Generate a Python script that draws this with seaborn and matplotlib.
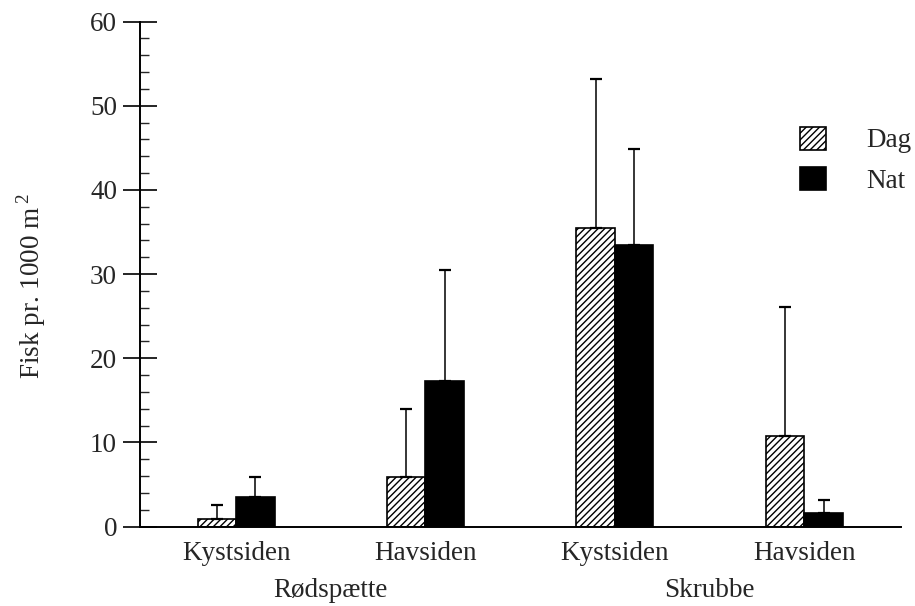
import matplotlib
matplotlib.use("Agg")
import matplotlib.pyplot as plt
from matplotlib.patches import Patch
from matplotlib.ticker import MultipleLocator
import seaborn as sns
import pandas as pd
import numpy as np

# ---- data ----
species = ["Rødspætte", "Rødspætte", "Skrubbe", "Skrubbe"]
sides = ["Kystsiden", "Havsiden", "Kystsiden", "Havsiden"]
dag = [0.85, 5.9, 35.5, 10.7]
dag_err_top = [2.5, 14.0, 53.2, 26.1]
nat = [3.5, 17.3, 33.4, 1.6]
nat_err_top = [5.9, 30.45, 44.9, 3.2]
groups = ["Dag", "Nat"]
yticks = [0, 10, 20, 30, 40, 50, 60]

keys = [f"{s} {p}" for s, p in zip(species, sides)]
df = pd.DataFrame({
    "key": keys * 2,
    "tid": ["Dag"] * 4 + ["Nat"] * 4,
    "val": dag + nat,
})

sns.set_style("white")
plt.rcParams["font.family"] = ["Liberation Serif", "DejaVu Serif"]
plt.rcParams["mathtext.fontset"] = "custom"
plt.rcParams["mathtext.rm"] = "Liberation Serif"
plt.rcParams["hatch.linewidth"] = 1.0
plt.rcParams["hatch.color"] = "black"

fig = plt.figure(figsize=(9.15, 6.06), dpi=100)
ax = fig.add_axes([140 / 915, 1 - 526.5 / 606, 761 / 915, 505 / 606])

sns.barplot(data=df, x="key", y="val", hue="tid", order=keys, hue_order=groups,
            palette={"Dag": "white", "Nat": "black"}, width=0.406,
            edgecolor="black", linewidth=1.2, ax=ax, legend=False, errorbar=None)

containers = ax.containers
for p in containers[0]:
    p.set_hatch("/////")

tops = [dag_err_top, nat_err_top]
vals = [dag, nat]
for c, v, t in zip(containers, vals, tops):
    xs = [p.get_x() + p.get_width() / 2 for p in c]
    up = np.array(t) - np.array(v)
    ax.errorbar(xs, v, yerr=[np.zeros_like(up), up], fmt="none", ecolor="black",
                elinewidth=1.1, capsize=4, capthick=1.6, zorder=1)

ax.set_xlim(-0.507, 3.51)
ax.set_ylim(0, 60)
ax.set_yticks(yticks)
ax.yaxis.set_minor_locator(MultipleLocator(2))
ax.tick_params(axis="y", which="major", direction="inout", length=24.5, width=1.2,
               pad=4.3, labelsize=19.5, left=True, color="black")
ax.tick_params(axis="y", which="minor", direction="in", length=6.5, width=1.0, left=True)
ax.set_xticks(range(4))
ax.set_xticklabels(sides)
ax.tick_params(axis="x", length=0, pad=10.4, labelsize=19.5)
for s in ["top", "right"]:
    ax.spines[s].set_visible(False)
for s in ["left", "bottom"]:
    ax.spines[s].set_linewidth(1.4)
    ax.spines[s].set_color("black")

ax.set_xlabel("")
ax.set_ylabel("Fisk pr. 1000 m$^{\\,2}$", fontsize=19.5)
ax.yaxis.set_label_coords(-0.121, 0.475)

trans = matplotlib.transforms.blended_transform_factory(ax.transData, ax.transAxes)
ax.text(0.5, -0.102, "Rødspætte", transform=trans, ha="center", va="top", fontsize=19.5)
ax.text(2.5, -0.102, "Skrubbe", transform=trans, ha="center", va="top", fontsize=19.5)

handles = [Patch(facecolor="white", edgecolor="black", hatch="/////", linewidth=1.2),
           Patch(facecolor="black", edgecolor="black", linewidth=1.2)]
fig.legend(handles, groups, loc="upper left", bbox_to_anchor=(800 / 915, 1 - 126.5 / 606),
           frameon=False, fontsize=19.5, handlelength=0.95, handleheight=0.95,
           handletextpad=1.5, labelspacing=0.5, borderpad=0, borderaxespad=0)

fig.savefig("out.png", dpi=100)
